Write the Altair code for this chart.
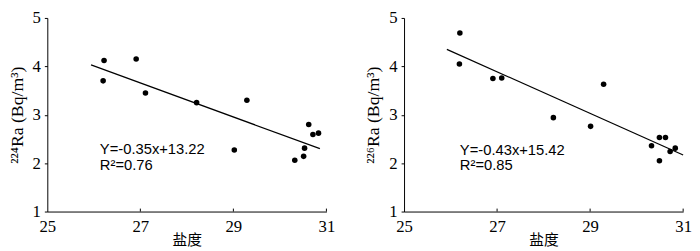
import altair as alt
import pandas as pd

# ---- data ----
sal_224 = [26.22, 26.20, 26.91, 27.11, 28.21, 29.29, 29.02, 30.62, 30.71, 30.83, 30.53, 30.51, 30.32]
ra_224 = [4.12, 3.70, 4.15, 3.45, 3.25, 3.30, 2.27, 2.80, 2.59, 2.62, 2.31, 2.14, 2.06]
fit_224_x = [25.94, 30.86]
fit_224_y = [4.03, 2.30]
eq_224_text = ["Y=-0.35x+13.22", "R²=0.76"]
eq_224_x = [26.13, 26.13]
eq_224_y = [2.29, 1.95]

sal_226 = [26.20, 26.19, 26.91, 27.10, 28.21, 29.29, 29.01, 30.49, 30.62, 30.32, 30.72, 30.83, 30.49]
ra_226 = [4.69, 4.05, 3.75, 3.76, 2.94, 3.63, 2.76, 2.53, 2.53, 2.36, 2.24, 2.31, 2.05]
fit_226_x = [25.92, 31.0]
fit_226_y = [4.35, 2.17]
eq_226_text = ["Y=-0.43x+15.42", "R²=0.85"]
eq_226_x = [26.20, 26.20]
eq_226_y = [2.27, 1.95]

x_ticks = [25, 27, 29, 31]
y_ticks = [1, 2, 3, 4, 5]
x_title = "盐度"
y_title_224 = "²²⁴Ra (Bq/m³)"
y_title_226 = "²²⁶Ra (Bq/m³)"

W = 284
H = 197


def panel(sal, ra, fx, fy, eq_text, eq_x, eq_y, ytitle):
    X = alt.X(
        "s:Q",
        scale=alt.Scale(domain=[25, 31], nice=False, zero=False),
        axis=alt.Axis(values=x_ticks, title=x_title, ticks=False, labelPadding=7,
                      labelFlush=False, titlePadding=-1,
                      titleFont="Liberation Serif, Noto Sans CJK SC", titleFontSize=15),
    )
    Y = alt.Y(
        "r:Q",
        scale=alt.Scale(domain=[1, 5], nice=False, zero=False),
        axis=alt.Axis(values=y_ticks, title=ytitle, tickSize=3, labelPadding=4,
                      labelFlush=False, titlePadding=6, titleFontSize=18),
    )
    pts = alt.Chart(pd.DataFrame({"s": sal, "r": ra})).mark_circle(
        size=32, color="black", opacity=1
    ).encode(x=X, y=Y)
    line = alt.Chart(pd.DataFrame({"s": fx, "r": fy})).mark_line(
        color="black", strokeWidth=1.2
    ).encode(x=X, y=Y)
    txt = alt.Chart(pd.DataFrame({"s": eq_x, "r": eq_y, "t": eq_text})).mark_text(
        align="left", baseline="middle", font="Liberation Sans", fontSize=15, color="black"
    ).encode(x=X, y=Y, text="t:N")
    tk = alt.Chart(pd.DataFrame({"s": x_ticks[1:]})).mark_rule(
        color="black", strokeWidth=1
    ).encode(x=X, y=alt.value(H - 3), y2=alt.value(H))
    return alt.layer(pts, line, txt, tk).properties(width=W, height=H)


left = panel(sal_224, ra_224, fit_224_x, fit_224_y, eq_224_text, eq_224_x, eq_224_y, y_title_224)
right = panel(sal_226, ra_226, fit_226_x, fit_226_y, eq_226_text, eq_226_x, eq_226_y, y_title_226)

chart = alt.hconcat(
    left, right, spacing=79, bounds="flush",
    padding={"left": 0, "top": -1, "right": 0, "bottom": 0},
).configure_axis(
    domainColor="black", tickColor="black", labelColor="black", titleColor="black",
    grid=False, labelFont="Liberation Serif", labelFontSize=17,
    titleFont="Liberation Serif", titleFontWeight="normal", domainWidth=1,
).configure_view(stroke=None)

chart.save("out.html", embed_options={"renderer": "svg", "actions": False})
